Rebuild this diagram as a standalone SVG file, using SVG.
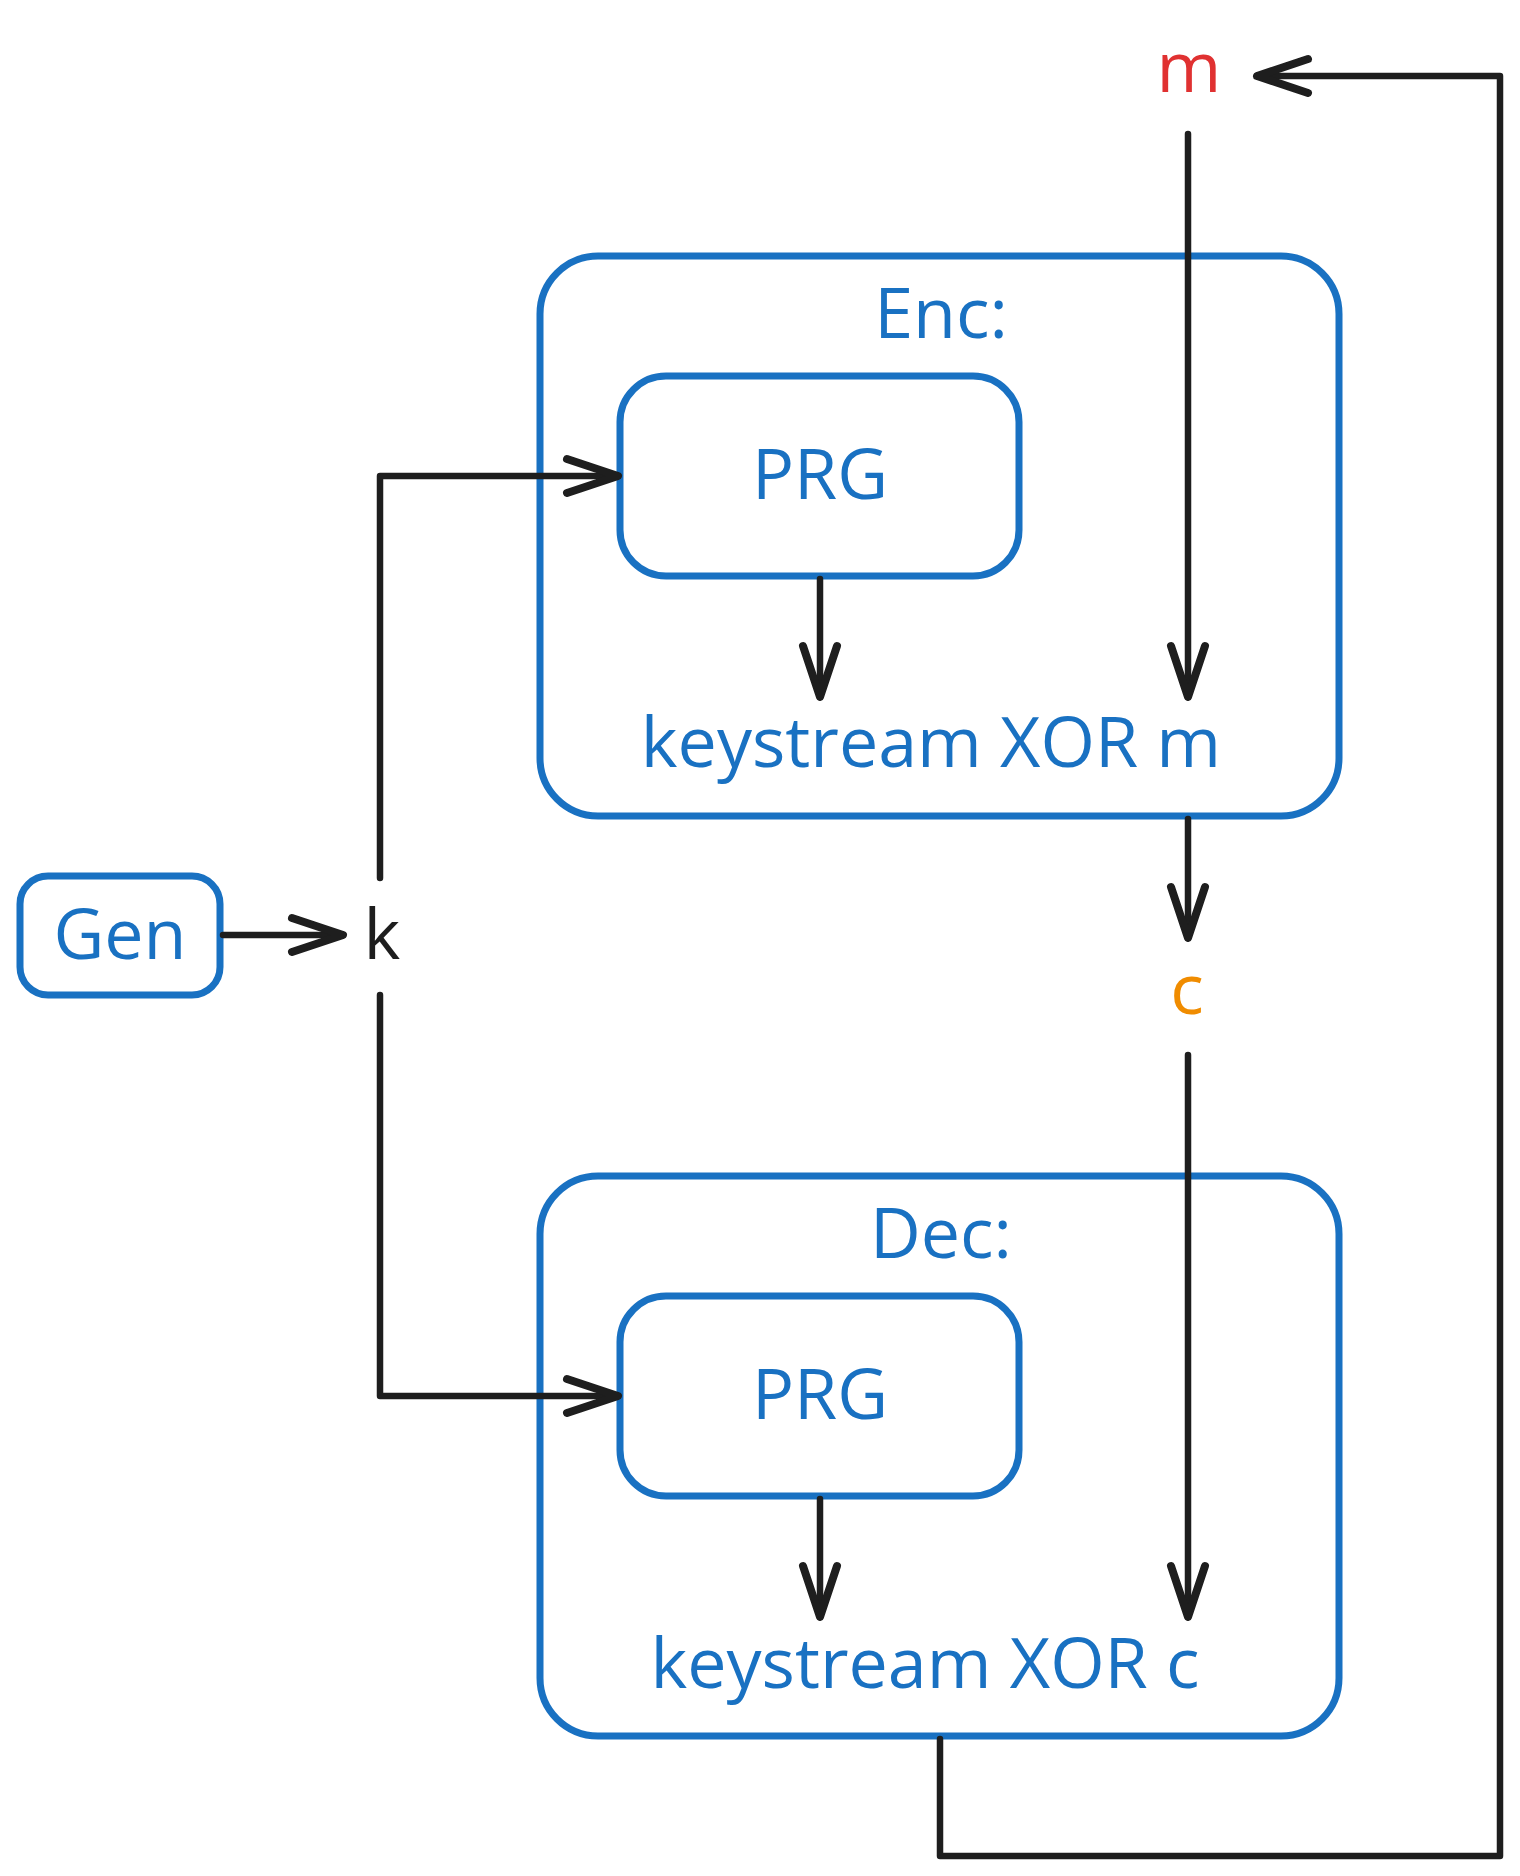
<svg xmlns="http://www.w3.org/2000/svg" width="1520" height="1876" viewBox="0 0 1520 1876">
  <style>
    .box { fill: none; stroke: #1971c2; stroke-width: 7; }
    .lbl { font-family: "Open Sans", "Noto Sans", sans-serif; font-size: 70px; text-anchor: middle; }
    .blue { fill: #1971c2; }
    .conn { fill: none; stroke: #1e1e1e; stroke-width: 6.5; stroke-linecap: round; stroke-linejoin: round; }
  </style>
  <defs>
    <marker id="arrow" markerUnits="userSpaceOnUse" orient="auto" refX="0" refY="0" markerWidth="80" markerHeight="80" viewBox="-60 -40 80 80" overflow="visible">
      <path d="M -51 -17 L 0 0 L -51 17" fill="none" stroke="#1e1e1e" stroke-width="8" stroke-linecap="round" stroke-linejoin="round"/>
    </marker>
  </defs>
  <rect width="1520" height="1876" fill="#ffffff"/>

  <g id="gen">
    <rect class="box" x="20" y="876" width="200" height="119" rx="28"/>
    <text class="lbl blue" x="120" y="959">Gen</text>
  </g>
  <g id="k">
    <text class="lbl" x="382" y="959" fill="#1e1e1e">k</text>
  </g>
  <g id="m">
    <text class="lbl" x="1189" y="92" fill="#e03131">m</text>
  </g>
  <g id="c">
    <text class="lbl" x="1187" y="1014" fill="#f08c00">c</text>
  </g>
  <g id="enc">
    <rect class="box" x="540" y="256" width="799" height="560" rx="58"/>
    <text class="lbl blue" x="941" y="338">Enc:</text>
    <text class="lbl blue" x="931" y="767">keystream XOR m</text>
  </g>
  <g id="enc-prg">
    <rect class="box" x="620" y="376" width="399" height="200" rx="46"/>
    <text class="lbl blue" x="820" y="499">PRG</text>
  </g>
  <g id="dec">
    <rect class="box" x="540" y="1176" width="799" height="560" rx="58"/>
    <text class="lbl blue" x="941" y="1258">Dec:</text>
    <text class="lbl blue" x="925" y="1688">keystream XOR c</text>
  </g>
  <g id="dec-prg">
    <rect class="box" x="620" y="1296" width="399" height="200" rx="46"/>
    <text class="lbl blue" x="820" y="1419">PRG</text>
  </g>

  <g id="connectors">
    <path class="conn" d="M 223 935 L 343 935" marker-end="url(#arrow)"/>
    <path class="conn" d="M 380 878 L 380 476 L 618 476" marker-end="url(#arrow)"/>
    <path class="conn" d="M 380 995 L 380 1396 L 618 1396" marker-end="url(#arrow)"/>
    <path class="conn" d="M 820 579 L 820 697" marker-end="url(#arrow)"/>
    <path class="conn" d="M 1188 134 L 1188 697" marker-end="url(#arrow)"/>
    <path class="conn" d="M 1188 819 L 1188 938" marker-end="url(#arrow)"/>
    <path class="conn" d="M 1188 1055 L 1188 1617" marker-end="url(#arrow)"/>
    <path class="conn" d="M 820 1499 L 820 1617" marker-end="url(#arrow)"/>
    <path class="conn" d="M 940 1739 L 940 1856 L 1500 1856 L 1500 76 L 1257 76" marker-end="url(#arrow)"/>
  </g>
</svg>
